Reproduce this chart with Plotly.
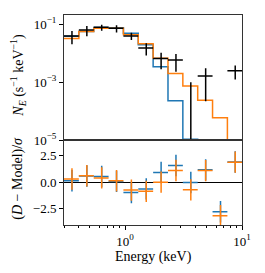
import numpy as np
import plotly.graph_objects as go
from plotly.subplots import make_subplots

# ---- data ----
bin_edges = [0.3, 0.402, 0.539, 0.722, 0.967, 1.296, 1.737, 2.327, 3.118, 4.178, 5.598, 7.5, 10.0]
data_rate = [0.039, 0.062, 0.077, 0.071, 0.039, 0.015, 0.0065, 0.0058, 5e-6, 0.00162, -5.8e-4, 0.0025]
data_err = [0.019, 0.024, 0.018, 0.020, 0.011, 0.0068, 0.0037, 0.0035, 0.0010, 0.0014, 0.0002, 0.00125]
model_blue = [0.038, 0.055, 0.076, 0.075, 0.048, 0.0195, 0.0034, 2.3e-4, 1.1e-5, 2e-7, 1e-9, 1e-11]
model_orange = [0.0316, 0.055, 0.072, 0.072, 0.043, 0.021, 0.0067, 0.002, 7.4e-4, 2.4e-4, 6e-5, 3e-6]
resid_blue = [0.13, 0.57, 0.53, 0.07, -0.97, -0.63, 0.90, 1.56, -0.03, 1.15, -2.77, 1.88]
resid_orange = [0.30, 0.60, 0.40, 0.13, -0.74, -0.86, 0.0, 1.09, -0.72, 1.08, -3.14, 1.87]
resid_err = [1.0] * 12

x_major = [1, 10]
x_major_text = ["10<sup>0</sup>", "10<sup>1</sup>"]
x_minor = [0.3, 0.4, 0.5, 0.6, 0.7, 0.8, 0.9, 2, 3, 4, 5, 6, 7, 8, 9]
y1_ticks = [1e-5, 1e-3, 1e-1]
y1_text = ["10<sup>\u22125</sup>", "10<sup>\u22123</sup>", "10<sup>\u22121</sup>"]
y2_ticks = [-2.5, 0.0, 2.5]
y2_text = ["\u22122.5", "0.0", "2.5"]

x_title = "Energy (keV)"
y1_title = "<i>N</i><sub><i>E</i></sub> (s<sup>\u22121</sup> keV<sup>\u22121</sup>)"
y2_title = "(<i>D</i> \u2212 Model)/<i>\u03c3</i>"

BLUE = "#1f77b4"
ORANGE = "#ff7f0e"
FONT = "Liberation Serif"
FRAME = "#333333"
TICK_SIZE = 13
TITLE_SIZE = 14

lo = np.array(bin_edges[:-1])
hi = np.array(bin_edges[1:])
centers = (lo + hi) / 2
xplus = hi - centers
xminus = centers - lo

fig = make_subplots(rows=2, cols=1, shared_xaxes=True, vertical_spacing=0,
                    row_heights=[126, 85])

for model, col in [(model_blue, BLUE), (model_orange, ORANGE)]:
    fig.add_trace(go.Scatter(x=bin_edges, y=list(model) + [model[-1]], mode="lines",
                             line=dict(color=col, width=1.5, shape="hv"),
                             showlegend=False, hoverinfo="skip"), row=1, col=1)

fig.add_trace(go.Scatter(
    x=centers, y=data_rate, mode="markers",
    marker=dict(size=1, color="rgba(0,0,0,0)"),
    error_x=dict(type="data", array=xplus, arrayminus=xminus, color="black", thickness=1.5, width=0),
    error_y=dict(type="data", array=data_err, color="black", thickness=1.5, width=0),
    showlegend=False), row=1, col=1)

for res, col in [(resid_blue, BLUE), (resid_orange, ORANGE)]:
    fig.add_trace(go.Scatter(
        x=centers, y=res, mode="markers",
        marker=dict(size=1, color="rgba(0,0,0,0)"),
        error_x=dict(type="data", array=xplus, arrayminus=xminus, color=col, thickness=1.5, width=0),
        error_y=dict(type="data", array=resid_err, color=col, thickness=1.5, width=0),
        showlegend=False), row=2, col=1)

xr = [np.log10(0.3), 1.0]
fig.update_xaxes(type="log", range=xr, showline=True, mirror=True, linecolor=FRAME,
                 linewidth=1, showgrid=False, zeroline=False,
                 tickfont=dict(size=TICK_SIZE))
fig.update_xaxes(ticks="", showticklabels=False, row=1, col=1)
fig.update_xaxes(ticks="outside", ticklen=4, tickwidth=1, tickcolor="black",
                 tickvals=x_major, ticktext=x_major_text,
                 minor=dict(ticks="outside", ticklen=2, tickwidth=1, tickcolor="black",
                            tickvals=x_minor, showgrid=False),
                 row=2, col=1)

fig.update_yaxes(type="log", range=[-5, -0.69], showline=True, mirror=True, linecolor=FRAME,
                 linewidth=1, showgrid=False, zeroline=False, ticks="outside", ticklen=4,
                 tickcolor="black", tickvals=y1_ticks, ticktext=y1_text,
                 tickfont=dict(size=TICK_SIZE), row=1, col=1)
fig.update_yaxes(range=[-4.0, 3.9], showline=True, mirror=True, linecolor=FRAME,
                 linewidth=1, showgrid=False, zeroline=True, zerolinecolor="black",
                 zerolinewidth=1.2, ticks="outside", ticklen=4, tickcolor="black",
                 tickvals=y2_ticks, ticktext=y2_text,
                 tickfont=dict(size=TICK_SIZE), row=2, col=1)

title_font = dict(family=FONT, size=TITLE_SIZE, color="black")
fig.add_annotation(text=x_title, xref="x domain", x=0.5, yref="paper", y=0,
                   yshift=-32, xanchor="center", yanchor="middle",
                   showarrow=False, font=title_font)
fig.add_annotation(text=y1_title, xref="paper", x=0, xshift=-46, yref="y domain", y=0.5,
                   yshift=2, xanchor="center", yanchor="middle", textangle=-90,
                   showarrow=False, font=title_font)
fig.add_annotation(text=y2_title, xref="paper", x=0, xshift=-46, yref="y2 domain", y=0.5,
                   yshift=4, xanchor="center", yanchor="middle", textangle=-90,
                   showarrow=False, font=title_font)

# the page body has an 8 px margin; size the figure so the plot area sits where the reference's does
fig.update_layout(width=249, height=257, margin=dict(l=56, r=10, t=6, b=40),
                  paper_bgcolor="white", plot_bgcolor="white",
                  font=dict(family=FONT, size=TICK_SIZE, color="black"))

fig.write_html("out.html")
